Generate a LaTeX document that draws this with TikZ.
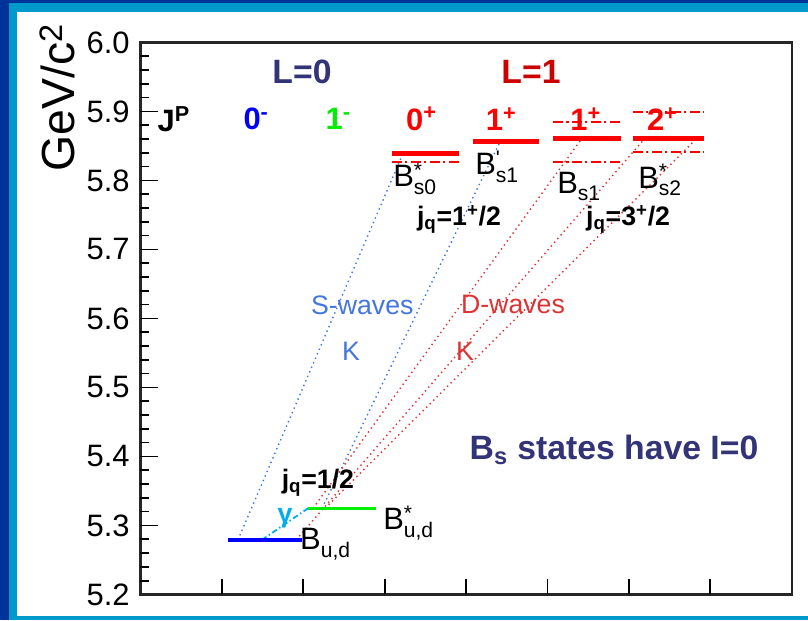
\documentclass[tikz,border=0pt]{standalone}
\usepackage{fontspec}
\setmainfont{Liberation Sans}
\usepackage{xcolor}
\usepackage{tikz}
\definecolor{frameblue}{HTML}{003399}
\definecolor{framecyan}{HTML}{0099CC}
\definecolor{slateblue}{HTML}{333377}
\definecolor{darkred}{HTML}{CC0000}
\definecolor{wavesblue}{HTML}{4477DD}
\definecolor{wavesred}{HTML}{DD3333}
\definecolor{levelgreen}{HTML}{00EE00}
\newcommand{\bstate}[3]{#1\rlap{\raisebox{0.6ex}{\fontsize{15}{15}\selectfont#2}}%
  \raisebox{-0.45ex}{\fontsize{15}{15}\selectfont#3}}
\tikzset{
  axis/.style={line width=1.6pt, black!85},
  ticklabel/.style={
    anchor=east,
    inner sep=0pt,
    font=\fontsize{22}{24}\selectfont
  },
  axislabel/.style={
    rotate=90,
    inner sep=0pt,
    font=\fontsize{33}{36}\selectfont
  },
  header/.style={inner sep=0pt, font=\bfseries\fontsize{24}{26}\selectfont},
  spin/.style={inner sep=0pt, font=\bfseries\fontsize{22}{24}\selectfont},
  statename/.style={
    anchor=base west,
    inner sep=0pt,
    font=\fontsize{22}{24}\selectfont
  },
  jlabel/.style={inner sep=0pt, font=\bfseries\fontsize{19}{21}\selectfont},
  wavelabel/.style={inner sep=0pt, font=\fontsize{19}{21}\selectfont},
  level/.style={line width=3.5pt, red},
  predicted/.style={
    line width=1.3pt,
    red,
    dash pattern=on 7pt off 2.5pt on 1.5pt off 2.5pt
  },
  swave/.style={line width=1pt, wavesblue, dash pattern=on 1pt off 2.5pt},
  dwave/.style={line width=1pt, wavesred, dash pattern=on 1pt off 2.5pt}
}

\begin{document}
\begin{tikzpicture}[x=2.035cm, y=17.25cm]
  % frame
  \useasboundingbox (-1.726,5.16304) rectangle (8.2002,6.06159);
  \fill[frameblue] (-1.726,5.16304) rectangle (8.2002,6.06159);
  \fill[framecyan] (-1.6155,5.16304) rectangle (8.2002,6.0572);
  \fill[white] (-1.5172,5.16884) rectangle (8.2002,6.0442);

  % axes
  \draw[axis] (0,5.2) rectangle (8,6.0);
  \foreach \i in {1,...,39}
    \draw[line width=1.2pt] (0,5.2+\i*0.02) -- ++(0.11,0);
  \foreach \i in {1,...,7}
    \draw[line width=1.2pt] (0,5.2+\i*0.1) -- ++(0.22,0);
  \foreach \x in {1,...,7}
    \draw[line width=1.2pt] (\x,5.2) -- ++(0,0.023);
  \foreach \lab [count=\i] in {5.2,5.3,5.4,5.5,5.6,5.7,5.8,5.9,6.0}
    \node[ticklabel] (ylab\i) at (-0.13,5.1+\i*0.1) {\lab};
  \node[axislabel] (yaxis) at (-1.02,5.92) {GeV/c\textsuperscript{2}};

  % headers
  \node[header, text=slateblue] (L0) at (1.984,5.957) {L=0};
  \node[header, text=darkred] (L1) at (4.797,5.957) {L=1};
  \node[spin] (JP) at (0.41,5.889) {J\textsuperscript{P}};
  \node[spin, text=blue] (J0m) at (1.42,5.889) {0\textsuperscript{-}};
  \node[spin, text=levelgreen] (J1m) at (2.43,5.889) {1\textsuperscript{-}};
  \node[spin, text=red] (J0p) at (3.45,5.889) {0\textsuperscript{+}};
  \node[spin, text=red] (J1pa) at (4.43,5.889) {1\textsuperscript{+}};
  \node[spin, text=red] (J1pb) at (5.47,5.889) {1\textsuperscript{+}};
  \node[spin, text=red] (J2p) at (6.41,5.889) {2\textsuperscript{+}};

  % level end points
  \coordinate (Bud-w) at (1.08,5.279);
  \coordinate (Bud-e) at (1.98,5.279);
  \coordinate (Bst-w) at (2.06,5.325);
  \coordinate (Bst-e) at (2.89,5.325);
  \coordinate (Bs0-w) at (3.09,5.8394);
  \coordinate (Bs0-e) at (3.91,5.8394);
  \coordinate (Bs1p-w) at (4.085,5.8558);
  \coordinate (Bs1p-e) at (4.896,5.8558);
  \coordinate (Bs1-w) at (5.068,5.8612);
  \coordinate (Bs1-e) at (5.903,5.8612);
  \coordinate (Bs2-w) at (6.05,5.8612);
  \coordinate (Bs2-e) at (6.92,5.8612);

  % decay end points
  \coordinate (Bud-k) at (1.197,5.279);
  \coordinate (Bud-d) at (1.91,5.279);
  \coordinate (Bud-g) at (1.49,5.279);
  \coordinate (Bst-k) at (2.23,5.325);
  \coordinate (Bst-a) at (2.12,5.325);
  \coordinate (Bst-c) at (2.267,5.325);
  \coordinate (Bs0-k) at (3.225,5.8394);
  \coordinate (Bs1p-k) at (4.416,5.8558);
  \coordinate (Bs1-k) at (5.424,5.8612);
  \coordinate (Bs2-k) at (6.198,5.8612);
  \coordinate (Bs2-c) at (6.837,5.8612);

  % S- and D-wave kaon transitions
  \draw[swave] (Bud-k) -- (Bs0-k);
  \draw[swave] (Bst-k) -- (Bs1p-k);
  \draw[dwave] (Bst-a) -- (Bs1-k);
  \draw[dwave] (Bud-d) -- (Bs2-k);
  \draw[dwave] (Bst-c) -- (Bs2-c);
  \draw[cyan, line width=1.3pt, dash pattern=on 4pt off 2pt on 1pt off 2pt]
    (Bud-g) -- (Bst-w);

  % levels
  \draw[line width=2.8pt, blue] (Bud-w) -- (Bud-e);
  \draw[line width=2.3pt, levelgreen] (Bst-w) -- (Bst-e);
  \draw[level] (Bs0-w) -- (Bs0-e);
  \draw[predicted] (3.09,5.8272) -- (3.91,5.8272);
  \draw[level] (Bs1p-w) -- (Bs1p-e);
  \draw[level] (Bs1-w) -- (Bs1-e);
  \draw[predicted] (5.068,5.8852) -- (5.903,5.8852);
  \draw[predicted] (5.068,5.8272) -- (5.903,5.8272);
  \draw[level] (Bs2-w) -- (Bs2-e);
  \draw[predicted] (6.05,5.8997) -- (6.92,5.8997);
  \draw[predicted] (6.05,5.8417) -- (6.92,5.8417);

  % state names
  \node[statename] (Bs0) at (3.102,5.7906) {\bstate{B}{*}{s0}};
  \node[statename] (Bs1p) at (4.109,5.808) {\bstate{B}{\textquotesingle}{s1}};
  \node[statename] (Bs1) at (5.117,5.781) {\bstate{B}{}{s1}};
  \node[statename] (Bs2) at (6.112,5.789) {\bstate{B}{*}{s2}};
  \node[statename] (Bud) at (1.959,5.2645) {\bstate{B}{}{u,d}};
  \node[statename] (Bst) at (2.979,5.2935) {\bstate{B}{*}{u,d}};

  % quantum numbers and decay labels
  \node[jlabel] (jq1) at (3.913,5.7437) {j\textsubscript{q}=1\textsuperscript{+}/2};
  \node[jlabel] (jq3) at (5.99,5.7437) {j\textsubscript{q}=3\textsuperscript{+}/2};
  \node[jlabel] (jq0) at (2.18,5.3616) {j\textsubscript{q}=1/2};
  \node[wavelabel, text=cyan] (gam) at (1.775,5.311) {\textbf{γ}};
  \node[wavelabel, text=wavesblue] (Swav) at (2.725,5.6196) {S-waves};
  \node[wavelabel, text=wavesblue] (SK) at (2.586,5.5529) {K};
  \node[wavelabel, text=wavesred] (Dwav) at (4.576,5.6196) {D-waves};
  \node[wavelabel, text=wavesred] (DK) at (3.987,5.5529) {K};
  \node[header, text=slateblue] (Bsnote) at (5.817,5.4094)
    {B\textsubscript{s} states have I=0};
\end{tikzpicture}
\end{document}
